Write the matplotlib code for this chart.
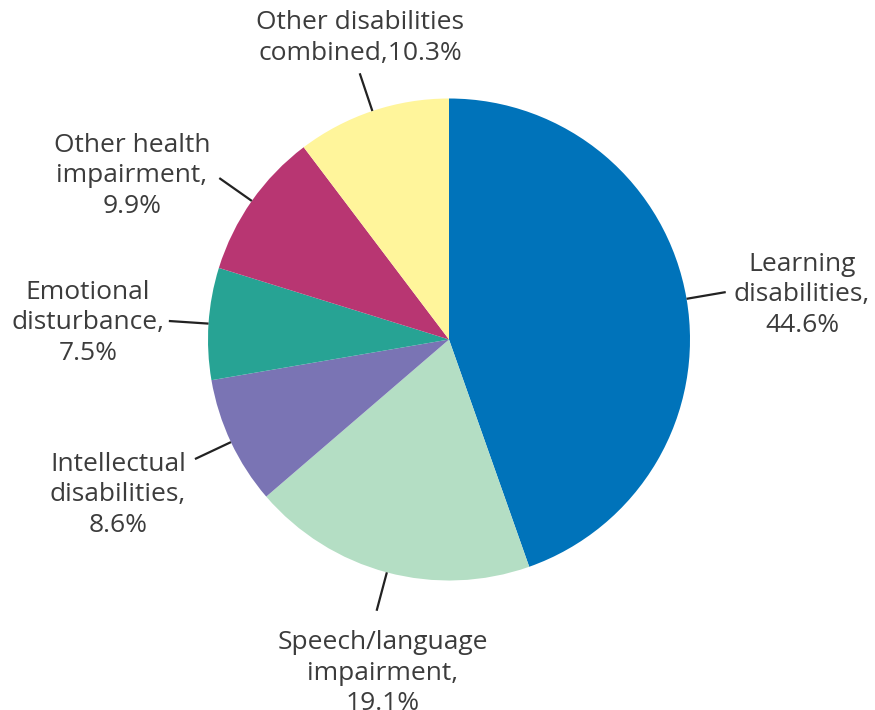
import numpy as np
import matplotlib.pyplot as plt

# share of students served, by disability category (clockwise from 12 o'clock)
categories = ['Learning\ndisabilities,', 'Speech/language\nimpairment,', 'Intellectual\ndisabilities,',
              'Emotional\ndisturbance,', 'Other health\nimpairment,', 'Other disabilities\ncombined,']
shares = [44.6, 19.1, 8.6, 7.5, 9.9, 10.3]
colors = ['#0073ba', '#b4dec4', '#7a74b4', '#27a394', '#b83672', '#fff59b']

# label text centres in pixel units (y measured from the top)
label_pos = [(802, 295), (383, 673), (118, 495), (88, 323), (132, 176), (360, 38)]

W, H = 875, 710
cx, cy, R = 449, H - 339.5, 241

fig = plt.figure(figsize=(W / 100, H / 100), dpi=100)
ax = fig.add_axes([0, 0, 1, 1])

wedges, _ = ax.pie(shares, colors=colors, startangle=90, counterclock=False,
                   center=(cx, cy), radius=R, wedgeprops=dict(linewidth=0),
                   frame=True)
ax.set_xlim(0, W)
ax.set_ylim(0, H)
ax.set_aspect('equal')
ax.axis('off')

txt_color = '#3c3c3c'
for w, cat, val, (lx, ly) in zip(wedges, categories, shares, label_pos):
    # leader line: radial, out from the middle of the wedge's arc
    mid = np.deg2rad((w.theta1 + w.theta2) / 2)
    x0, y0 = cx + R * np.cos(mid), cy + R * np.sin(mid)
    x1, y1 = cx + 1.165 * R * np.cos(mid), cy + 1.165 * R * np.sin(mid)
    ax.plot([x0, x1], [y0, y1], color='#222222', lw=1.6, solid_capstyle='butt')
    if cat.startswith('Other disabilities'):
        s = cat + '%.1f%%' % val
    else:
        s = cat + '\n%.1f%%' % val
    ax.text(lx, H - ly, s, ha='center', va='center', fontsize=19,
            family='Open Sans', color=txt_color, linespacing=1.27)

fig.savefig('out.png', dpi=100, facecolor='white')
